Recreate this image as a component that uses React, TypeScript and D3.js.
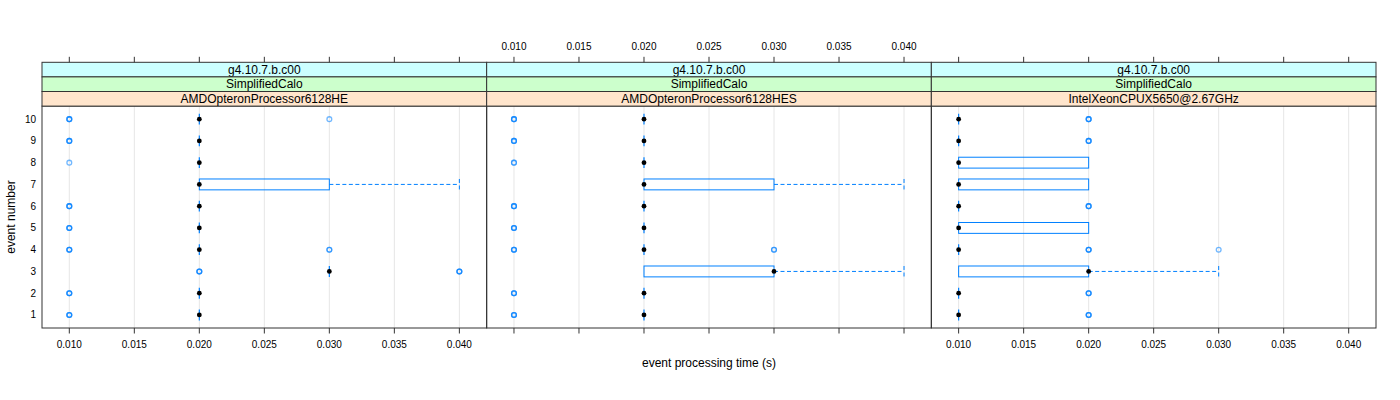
import React from "react";
import * as d3 from "d3";

const stripOuter = "g4.10.7.b.c00";
const stripMiddle = "SimplifiedCalo";
const machines = ["AMDOpteronProcessor6128HE", "AMDOpteronProcessor6128HES", "IntelXeonCPUX5650@2.67GHz"];
const events = [1, 2, 3, 4, 5, 6, 7, 8, 9, 10];
const xTicks = [0.01, 0.015, 0.02, 0.025, 0.03, 0.035, 0.04];

// box stats per event: [lowerWhisker, q1, median, q3, upperWhisker]
const statsHE: number[][] = [
  [0.02, 0.02, 0.02, 0.02, 0.02],
  [0.02, 0.02, 0.02, 0.02, 0.02],
  [0.03, 0.03, 0.03, 0.03, 0.03],
  [0.02, 0.02, 0.02, 0.02, 0.02],
  [0.02, 0.02, 0.02, 0.02, 0.02],
  [0.02, 0.02, 0.02, 0.02, 0.02],
  [0.02, 0.02, 0.02, 0.03, 0.04],
  [0.02, 0.02, 0.02, 0.02, 0.02],
  [0.02, 0.02, 0.02, 0.02, 0.02],
  [0.02, 0.02, 0.02, 0.02, 0.02],
];
const outliersHE: number[][] = [
  [0.01, 0.01, 0.01],
  [0.01, 0.01, 0.01],
  [0.02, 0.02, 0.02, 0.04, 0.04, 0.04],
  [0.01, 0.01, 0.01, 0.03, 0.03],
  [0.01, 0.01, 0.01],
  [0.01, 0.01, 0.01],
  [],
  [0.01],
  [0.01, 0.01, 0.01],
  [0.01, 0.01, 0.01, 0.03],
];
const statsHES: number[][] = [
  [0.02, 0.02, 0.02, 0.02, 0.02],
  [0.02, 0.02, 0.02, 0.02, 0.02],
  [0.02, 0.02, 0.03, 0.03, 0.04],
  [0.02, 0.02, 0.02, 0.02, 0.02],
  [0.02, 0.02, 0.02, 0.02, 0.02],
  [0.02, 0.02, 0.02, 0.02, 0.02],
  [0.02, 0.02, 0.02, 0.03, 0.04],
  [0.02, 0.02, 0.02, 0.02, 0.02],
  [0.02, 0.02, 0.02, 0.02, 0.02],
  [0.02, 0.02, 0.02, 0.02, 0.02],
];
const outliersHES: number[][] = [
  [0.01, 0.01, 0.01],
  [0.01, 0.01, 0.01],
  [],
  [0.01, 0.01, 0.01, 0.03, 0.03],
  [0.01, 0.01, 0.01],
  [0.01, 0.01, 0.01],
  [],
  [0.01, 0.01],
  [0.01, 0.01, 0.01],
  [0.01, 0.01, 0.01],
];
const statsXeon: number[][] = [
  [0.01, 0.01, 0.01, 0.01, 0.01],
  [0.01, 0.01, 0.01, 0.01, 0.01],
  [0.01, 0.01, 0.02, 0.02, 0.03],
  [0.01, 0.01, 0.01, 0.01, 0.01],
  [0.01, 0.01, 0.01, 0.02, 0.02],
  [0.01, 0.01, 0.01, 0.01, 0.01],
  [0.01, 0.01, 0.01, 0.02, 0.02],
  [0.01, 0.01, 0.01, 0.02, 0.02],
  [0.01, 0.01, 0.01, 0.01, 0.01],
  [0.01, 0.01, 0.01, 0.01, 0.01],
];
const outliersXeon: number[][] = [
  [0.02, 0.02, 0.02],
  [0.02, 0.02, 0.02],
  [],
  [0.02, 0.02, 0.02, 0.03],
  [],
  [0.02, 0.02, 0.02],
  [],
  [],
  [0.02, 0.02, 0.02],
  [0.02, 0.02, 0.02],
];

const allStats = [statsHE, statsHES, statsXeon];
const allOutliers = [outliersHE, outliersHES, outliersXeon];

const BLUE = "#0080ff";
const FONT = "'Liberation Sans', Arial, Helvetica, sans-serif";

export default function App() {
  const left = 42;
  const right = 1376;
  const top = 62.3;
  const stripH = 14.6;
  const panelTop = top + 3 * stripH;
  const panelBottom = 328;
  const pw = (right - left) / 3;
  const xDomain = [0.0079, 0.0421];
  const y = d3.scaleLinear().domain([0.4, 10.6]).range([panelBottom, panelTop]);
  const boxHalf = (y(0) - y(0.25));
  const stripColors = ["#ccffff", "#ccffcc", "#ffe5cc"];
  const stripTexts = (m: string) => [stripOuter, stripMiddle, m];
  const fmt = d3.format(".3f");

  return (
    <svg width={1400} height={400} style={{ display: "block", position: "absolute", left: 0, top: 0 }} fontFamily={FONT}>
      <rect x={0} y={0} width={1400} height={400} fill="white" />
      {machines.map((m, pi) => {
        const x0 = left + pi * pw;
        const x = d3.scaleLinear().domain(xDomain).range([x0, x0 + pw]);
        const stats = allStats[pi];
        const outs = allOutliers[pi];
        return (
          <g key={m}>
            {xTicks.map((t) => (
              <line key={"g" + t} x1={x(t)} x2={x(t)} y1={panelTop} y2={panelBottom} stroke="#e6e6e6" strokeWidth={1} />
            ))}
            {events.map((e, i) => {
              const [lo, q1, med, q3, hi] = stats[i];
              const yc = y(e);
              return (
                <g key={"b" + e}>
                  {hi > q3 && (
                    <g stroke={BLUE} strokeDasharray="4,2.5" strokeWidth={1}>
                      <line x1={x(q3)} x2={x(hi)} y1={yc} y2={yc} />
                      <line x1={x(hi)} x2={x(hi)} y1={yc - boxHalf} y2={yc + boxHalf} />
                    </g>
                  )}
                  {lo < q1 && (
                    <g stroke={BLUE} strokeDasharray="4,2.5" strokeWidth={1}>
                      <line x1={x(lo)} x2={x(q1)} y1={yc} y2={yc} />
                      <line x1={x(lo)} x2={x(lo)} y1={yc - boxHalf} y2={yc + boxHalf} />
                    </g>
                  )}
                  {q3 > q1 ? (
                    <rect x={x(q1)} y={yc - boxHalf} width={x(q3) - x(q1)} height={2 * boxHalf} fill="none" stroke={BLUE} strokeWidth={1} />
                  ) : (
                    <line x1={x(q1)} x2={x(q1)} y1={yc - boxHalf} y2={yc + boxHalf} stroke={BLUE} strokeWidth={1.2} />
                  )}
                  <circle cx={x(med)} cy={yc} r={2.4} fill="black" />
                  {outs[i].map((v, k) => (
                    <circle key={k} cx={x(v)} cy={yc} r={2.4} fill="none" stroke={BLUE} strokeWidth={1.3} strokeOpacity={0.55} />
                  ))}
                </g>
              );
            })}
            <rect x={x0} y={panelTop} width={pw} height={panelBottom - panelTop} fill="none" stroke="#333" strokeWidth={1} />
            {stripTexts(m).map((s, si) => (
              <g key={"s" + si}>
                <rect x={x0} y={top + si * stripH} width={pw} height={stripH} fill={stripColors[si]} stroke="#333" strokeWidth={1} />
                <text x={x0 + pw / 2} y={top + si * stripH + stripH / 2 + 4.2} textAnchor="middle" fontSize={12} fill="black">
                  {s}
                </text>
              </g>
            ))}
            {xTicks.map((t) => (
              <line key={"tt" + t} x1={x(t)} x2={x(t)} y1={top - 5.5} y2={top} stroke="#333" strokeWidth={1} />
            ))}
            {pi === 1 &&
              xTicks.map((t) => (
                <text key={"tl" + t} x={x(t)} y={50} textAnchor="middle" fontSize={10} fill="black">
                  {fmt(t)}
                </text>
              ))}
            {xTicks.map((t) => (
              <line key={"bt" + t} x1={x(t)} x2={x(t)} y1={panelBottom} y2={panelBottom + 5.5} stroke="#333" strokeWidth={1} />
            ))}
            {pi !== 1 &&
              xTicks.map((t) => (
                <text key={"bl" + t} x={x(t)} y={347.5} textAnchor="middle" fontSize={10} fill="black">
                  {fmt(t)}
                </text>
              ))}
          </g>
        );
      })}
      {events.map((e) => (
        <text key={"y" + e} x={36} y={y(e) + 3.5} textAnchor="end" fontSize={10} fill="black">
          {e}
        </text>
      ))}
      <text transform={`translate(15,${(panelTop + panelBottom) / 2}) rotate(-90)`} textAnchor="middle" fontSize={12} fill="black">
        event number
      </text>
      <text x={(left + right) / 2} y={367} textAnchor="middle" fontSize={12} fill="black">
        event processing time (s)
      </text>
    </svg>
  );
}
